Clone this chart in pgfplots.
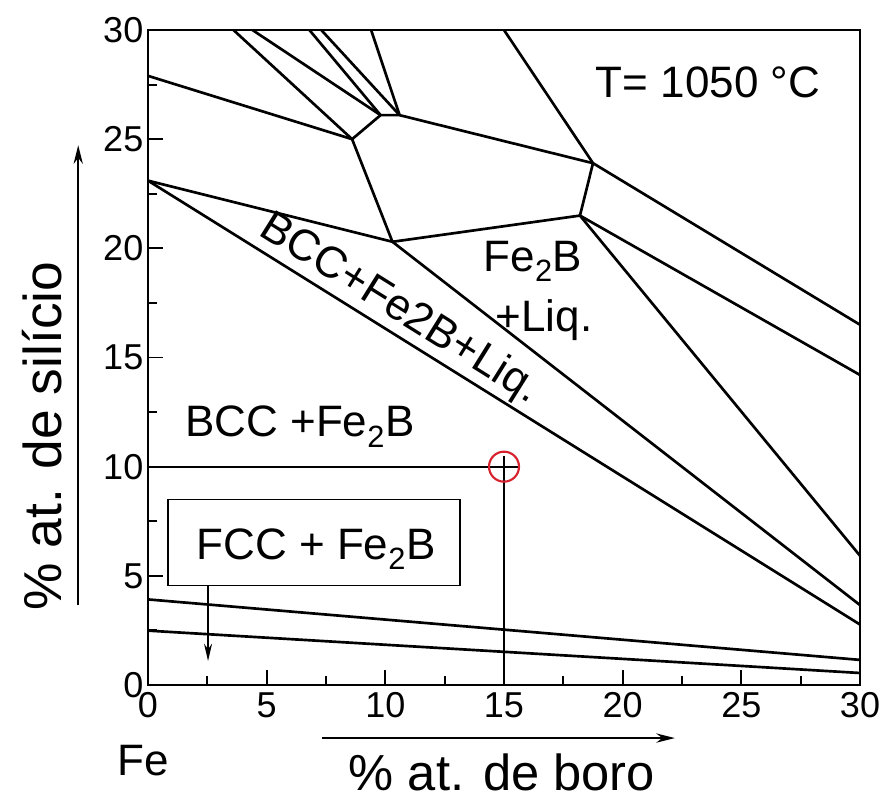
\documentclass[border=0pt]{standalone}
\usepackage{fontspec}
\setmainfont{Liberation Sans}
\usepackage{pgfplots}
\pgfplotsset{compat=1.18}
\usetikzlibrary{arrows.meta}
\definecolor{circred}{RGB}{215,35,45}
\tikzset{
  pl/.style={black, line width=2pt, line join=round, mark=none},
  lab/.style={font=\fontsize{33}{33}\selectfont, inner sep=0pt},
}
\begin{document}
\begin{tikzpicture}
\useasboundingbox (-111pt,-86.25pt) rectangle (549.75pt,513.75pt);
\begin{axis}[
  scale only axis, width=534pt, height=491.25pt,
  xmin=0, xmax=30, ymin=0, ymax=30,
  xtick={0,5,...,30}, ytick={0,5,...,30},
  minor x tick num=1, minor y tick num=1,
  tick align=inside, xtick pos=bottom, ytick pos=left,
  major tick length=11pt, minor tick length=7pt,
  axis line style={line width=2.2pt},
  every tick/.style={line width=1.4pt, black},
  tick label style={font=\fontsize{27}{27}\selectfont},
  xticklabel style={yshift=-2pt},
  /pgf/number format/assume math mode=true,
  xlabel={\% at. de boro}, ylabel={\% at. de silício},
  label style={font=\fontsize{38}{40}\selectfont},
  xlabel style={at={(axis description cs:0.497,-0.161)}, anchor=base},
  ylabel style={at={(axis description cs:-0.121,0.380)}, anchor=base, font=\fontsize{40}{42}\selectfont},
  clip=false,
]
% phase boundaries
\addplot[pl] coordinates {(0,27.9) (8.6,25.0)};
\addplot[pl] coordinates {(3.6,30) (8.6,25.0)};
\addplot[pl] coordinates {(4.4,30) (9.8,26.1)};
\addplot[pl] coordinates {(6.8,30) (9.8,26.1)};
\addplot[pl] coordinates {(7.3,30) (10.6,26.1)};
\addplot[pl] coordinates {(9.4,30) (10.6,26.1)};
\addplot[pl] coordinates {(8.6,25.0) (9.8,26.1) (10.6,26.1) (18.75,23.9) (18.2,21.5) (10.3,20.3) (8.6,25.0)};
\addplot[pl] coordinates {(15.0,30) (18.75,23.9)};
\addplot[pl] coordinates {(18.75,23.9) (30,16.5)};
\addplot[pl] coordinates {(18.2,21.5) (30,14.2)};
\addplot[pl] coordinates {(18.2,21.5) (30,5.92)};
\addplot[pl] coordinates {(0,23.1) (10.3,20.3)};
\addplot[pl] coordinates {(10.3,20.3) (30,3.66)};
\addplot[pl] coordinates {(0,23.1) (30,2.77)};
\addplot[pl] coordinates {(0,3.92) (30,1.15)};
\addplot[pl] coordinates {(0,2.49) (30,0.55)};
% composition guide lines
\addplot[pl, line width=1.5pt] coordinates {(0,10) (15.6,10)};
\addplot[pl, line width=1.5pt] coordinates {(15,0) (15,10.5)};
% box and arrow
\addplot[black, line width=1.1pt, mark=none] coordinates {(0.85,4.55) (13.15,4.55) (13.15,8.5) (0.85,8.5) (0.85,4.55)};
\addplot[black, line width=1.2pt, mark=none, -{Stealth[length=13pt,width=6pt]}] coordinates {(2.53,4.55) (2.53,1.1)};
% highlighted point
\addplot[only marks, mark=o, mark size=11.25pt, circred, mark options={line width=1.6pt}] coordinates {(15,10)};
% labels
\node[lab, anchor=base] at (axis cs:23.6,26.89) {T= 1050 °C};
\node[lab, anchor=base] at (axis cs:16.22,18.92) {Fe\textsubscript{2}B};
\node[lab, anchor=base] at (axis cs:16.69,16.17) {+Liq.};
\node[lab, anchor=base] at (axis cs:6.40,11.36) {BCC +Fe\textsubscript{2}B};
\node[lab, anchor=base] at (axis cs:7.08,5.77) {FCC + Fe\textsubscript{2}B};
\node[lab, anchor=center, rotate=-32] at (axis cs:10.6,17.2) {BCC+Fe2B+Liq.};
\node[lab, anchor=base west] at (axis description cs:-0.0435,-0.1374) {Fe};
% axis direction arrows
\draw[-{Stealth[length=14pt,width=7pt]}, line width=1.3pt] (axis description cs:-0.098,0.122) -- (axis description cs:-0.098,0.824);
\draw[-{Stealth[length=14pt,width=7pt]}, line width=1.3pt] (axis description cs:0.244,-0.081) -- (axis description cs:0.740,-0.081);
\end{axis}
\end{tikzpicture}
\end{document}
